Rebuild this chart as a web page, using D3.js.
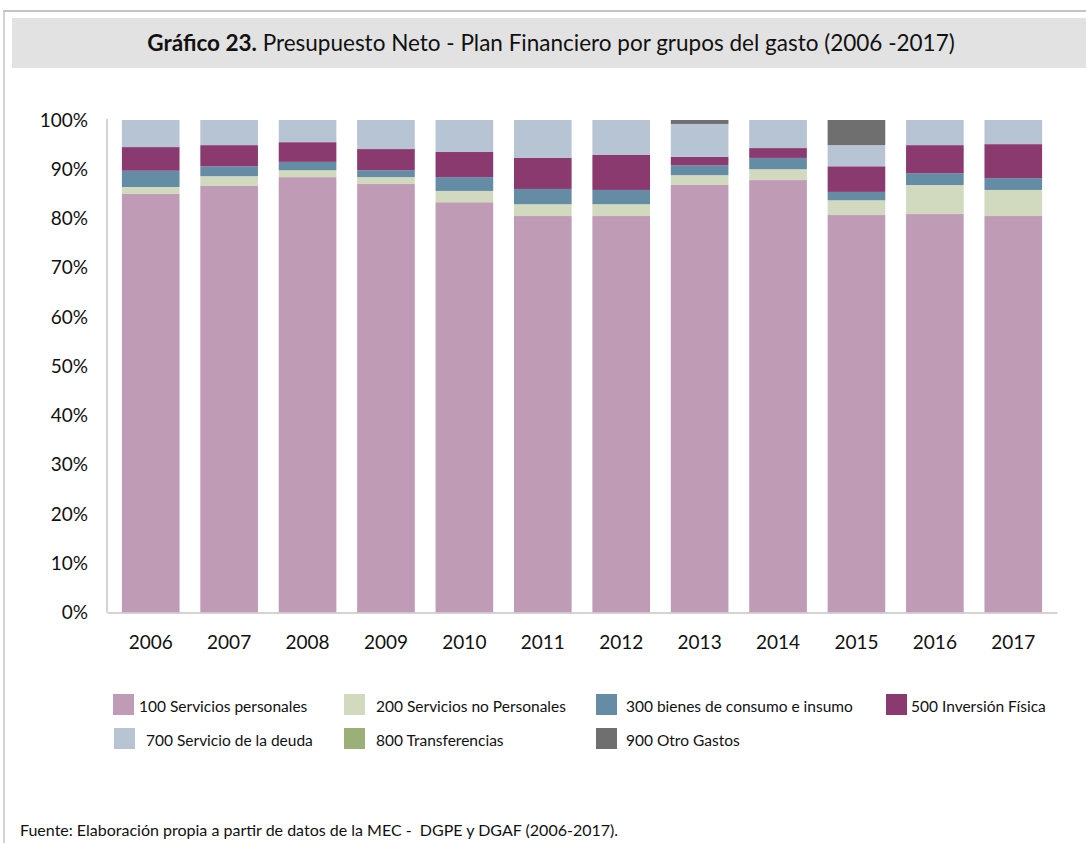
<!DOCTYPE html>
<html>
<head>
<meta charset="utf-8">
<script src="https://cdnjs.cloudflare.com/ajax/libs/d3/7.8.5/d3.min.js"></script>
<style>
  body { margin: 0; background: #ffffff; }
  svg { display: block; font-family: Lato, "Open Sans", sans-serif; }
  .axis-text { fill: #111111; }
</style>
</head>
<body>
<svg id="svg1" width="1086" height="843"></svg>
<script>
// chart data (percent of budget by group)
const years = ["2006", "2007", "2008", "2009", "2010", "2011", "2012", "2013", "2014", "2015", "2016", "2017"];
const s100 = [85.0, 86.6, 88.4, 87.0, 83.3, 80.5, 80.5, 86.8, 87.8, 80.7, 80.9, 80.5];
const s200 = [1.4, 2.0, 1.4, 1.4, 2.3, 2.4, 2.4, 2.0, 2.2, 3.0, 5.9, 5.3];
const s300 = [3.3, 2.0, 1.7, 1.4, 2.8, 3.1, 2.9, 2.0, 2.3, 1.7, 2.4, 2.4];
const s500 = [4.8, 4.3, 4.0, 4.3, 5.1, 6.3, 7.1, 1.7, 2.0, 5.2, 5.7, 6.9];
const s700 = [5.5, 5.1, 4.5, 5.9, 6.5, 7.7, 7.1, 6.7, 5.7, 4.3, 5.1, 4.9];
const s800 = [0, 0, 0, 0, 0, 0, 0, 0, 0, 0, 0, 0];
const s900 = [0, 0, 0, 0, 0, 0, 0, 0.8, 0, 5.1, 0, 0];
const seriesNames = ["100 Servicios personales", "200 Servicios no Personales", "300 bienes de consumo e insumo",
                     "500 Inversión Física", "700 Servicio de la deuda", "800 Transferencias", "900 Otro Gastos"];
const yTicks = [0, 10, 20, 30, 40, 50, 60, 70, 80, 90, 100];

const seriesColors = ["#c09bb6", "#d1d9bf", "#648ca5", "#8b3a6f", "#b7c4d4", "#9ab076", "#6f6f6f"];
const seriesValues = [s100, s200, s300, s500, s700, s800, s900];

const table = years.map((y, i) => {
    const row = { year: y };
    seriesNames.forEach((n, k) => row[n] = seriesValues[k][i]);
    return row;
});

const svg = d3.select("#svg1");

// frame + title box
svg.append("line").attr("x1", 3).attr("x2", 1086).attr("y1", 11).attr("y2", 11)
   .attr("stroke", "#c4c4c4").attr("stroke-width", 2);
svg.append("line").attr("x1", 4).attr("x2", 4).attr("y1", 11).attr("y2", 843)
   .attr("stroke", "#c4c4c4").attr("stroke-width", 1.5);
svg.append("rect").attr("x", 12).attr("y", 18).attr("width", 1074).attr("height", 50)
   .attr("fill", "#e2e2e2");

const title = svg.append("text")
    .attr("x", 551).attr("y", 51)
    .attr("text-anchor", "middle")
    .attr("font-size", "22.5px")
    .attr("fill", "#111111");
title.append("tspan").attr("font-weight", "bold").text("Gráfico 23.");
title.append("tspan").text(" Presupuesto Neto - Plan Financiero por grupos del gasto (2006 -2017)");

// scales
const xScale = d3.scaleBand()
    .domain(years)
    .range([107, 1057])
    .paddingInner(0.265)
    .paddingOuter(0.19);

const yScale = d3.scaleLinear()
    .domain([0, 100])
    .range([612.5, 120]);

const stacked = d3.stack().keys(seriesNames)(table);

svg.selectAll("g.layer")
    .data(stacked)
    .enter()
    .append("g")
    .attr("class", "layer")
    .attr("fill", (d, i) => seriesColors[i])
    .selectAll("rect")
    .data(d => d)
    .enter()
    .append("rect")
    .attr("x", d => xScale(d.data.year))
    .attr("y", d => yScale(d[1]))
    .attr("width", xScale.bandwidth())
    .attr("height", d => yScale(d[0]) - yScale(d[1]));

// axes
const leftAxis = d3.axisLeft(yScale).tickValues(yTicks).tickSize(0).tickPadding(19)
    .tickFormat(d => d + "%");
const gLeft = svg.append("g")
    .attr("class", "axis")
    .attr("transform", "translate(107,0)")
    .call(leftAxis);
gLeft.select(".domain").attr("stroke", "#c4c4c4").attr("stroke-width", 1.5)
    .attr("d", "M0," + (yScale(100) - 1) + "V" + yScale(0));
gLeft.selectAll("text").attr("class", "axis-text").attr("font-size", "19px")
    .attr("font-family", "Lato, sans-serif").attr("fill", "#111");

const bottomAxis = d3.axisBottom(xScale).tickSize(0).tickPadding(23);
const gBot = svg.append("g")
    .attr("class", "axis")
    .attr("transform", "translate(0," + yScale(0) + ")")
    .call(bottomAxis);
gBot.select(".domain").attr("stroke", "#c4c4c4").attr("stroke-width", 1.5);
gBot.selectAll("text").attr("class", "axis-text").attr("font-size", "19px")
    .attr("font-family", "Lato, sans-serif").attr("fill", "#111");

// legend
const legendPos = [
    [113, 694, 139], [344, 694, 376], [596, 694, 626], [886, 694, 911],
    [114, 728, 146], [344, 728, 376], [596, 728, 626]
];
const legend = svg.append("g").attr("class", "legend");
seriesNames.forEach((n, i) => {
    const [sx, sy, tx] = legendPos[i];
    legend.append("rect").attr("x", sx).attr("y", sy).attr("width", 21).attr("height", 21)
        .attr("fill", seriesColors[i]);
    legend.append("text").attr("x", tx).attr("y", sy + 18)
        .attr("font-size", "15.5px").attr("fill", "#111").text(n);
});

// source note
svg.append("text")
    .attr("x", 20).attr("y", 836)
    .attr("font-size", "16px")
    .attr("fill", "#111")
    .style("white-space", "pre")
    .text("Fuente: Elaboración propia a partir de datos de la MEC -  DGPE y DGAF (2006-2017).");
</script>
</body>
</html>
